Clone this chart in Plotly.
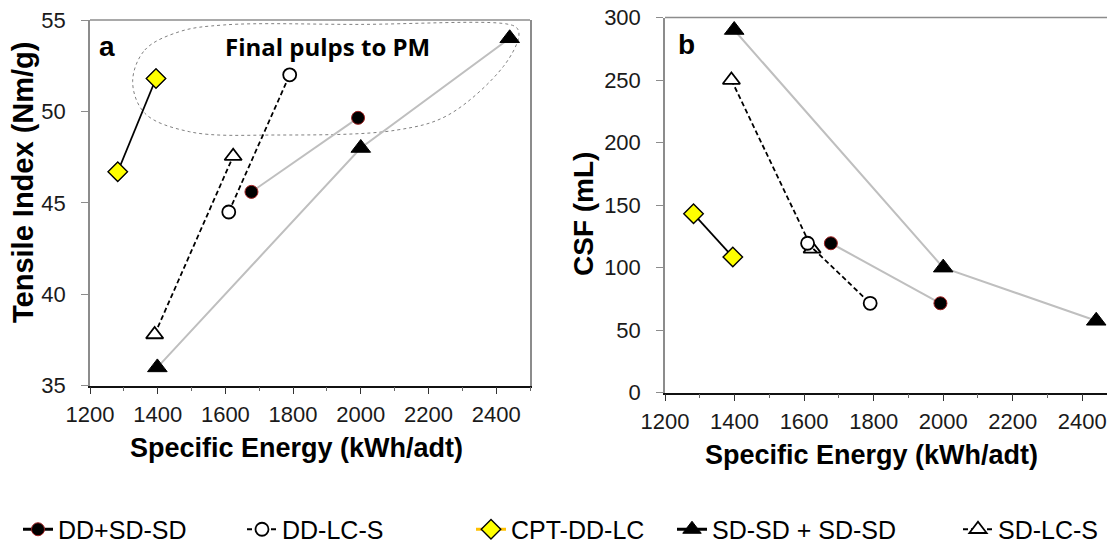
import plotly.graph_objects as go

# ---------------- data ----------------
series_names = ["DD+SD-SD", "DD-LC-S", "CPT-DD-LC", "SD-SD + SD-SD", "SD-LC-S"]

dd_sdsd_energy = [1677, 1992]
dd_sdsd_tensile = [45.6, 49.65]
dd_sdsd_csf = [119.5, 71.5]

dd_lcs_energy = [1610, 1790]
dd_lcs_tensile = [44.5, 52.0]
dd_lcs_csf = [119.5, 71.5]

cpt_energy = [1282, 1395]
cpt_tensile = [46.7, 51.8]
cpt_csf = [143, 108.5]

sdsd_energy = [1399, 2000, 2440]
sdsd_tensile = [36.0, 48.0, 54.0]
sdsd_csf = [290, 100, 57.5]

sd_lcs_energy = [1391, 1623]
sd_lcs_tensile = [37.8, 47.55]
sd_lcs_csf = [250, 115]

# outline of the "Final pulps to PM" region (panel a, data units)
region_x = [1326, 1362, 1464, 1596, 2000, 2432, 2462, 2467, 2421, 2258, 2106, 1749, 1494, 1362, 1326]
region_y = [51.63, 53.36, 54.36, 54.73, 54.76, 54.78, 54.55, 54.09, 52.45, 49.8, 48.98, 48.71, 48.89, 49.9, 51.63]

x_ticks = [1200, 1400, 1600, 1800, 2000, 2200, 2400]
tensile_ticks = [35, 40, 45, 50, 55]
csf_ticks = [0, 50, 100, 150, 200, 250, 300]

# ---------------- styles ----------------
GRAY_LINE = "#BFBFBF"
AX_GRAY = "#8C8C8C"
FONT = "Liberation Sans, Arial, sans-serif"
OFF = 8                      # page body margin offset
W, H = 1115 - OFF, 543 - OFF


def px_x(x):
    return (x - OFF) / W


def px_y(y):
    return 1 - (y - OFF) / H


styles = {
    "DD+SD-SD": dict(line=dict(color=GRAY_LINE, width=2),
                     marker=dict(symbol="circle", size=13, color="black",
                                 line=dict(color="#A02020", width=1))),
    "DD-LC-S": dict(line=dict(color="black", width=1.8, dash="5px,3px"),
                    marker=dict(symbol="circle", size=13, color="white",
                                line=dict(color="black", width=1.8))),
    "CPT-DD-LC": dict(line=dict(color="black", width=1.8),
                      marker=dict(symbol="diamond", size=15, color="#FFFF00",
                                  line=dict(color="black", width=1.4))),
    "SD-SD + SD-SD": dict(line=dict(color=GRAY_LINE, width=2),
                          marker=dict(symbol="triangle-up", size=17, color="black",
                                      line=dict(color="black", width=1))),
    "SD-LC-S": dict(line=dict(color="black", width=1.8, dash="5px,3px"),
                    marker=dict(symbol="triangle-up", size=15, color="white",
                                line=dict(color="black", width=1.8))),
}

fig = go.Figure()

panel_data = [
    ("DD+SD-SD", dd_sdsd_energy, dd_sdsd_tensile, dd_sdsd_csf),
    ("DD-LC-S", dd_lcs_energy, dd_lcs_tensile, dd_lcs_csf),
    ("CPT-DD-LC", cpt_energy, cpt_tensile, cpt_csf),
    ("SD-SD + SD-SD", sdsd_energy, sdsd_tensile, sdsd_csf),
    ("SD-LC-S", sd_lcs_energy, sd_lcs_tensile, sd_lcs_csf),
]

# region outline first (behind)
fig.add_trace(go.Scatter(x=region_x, y=region_y, mode="lines", xaxis="x", yaxis="y",
                         line=dict(color="#808080", width=1, dash="dot", shape="spline", smoothing=1.0),
                         showlegend=False, hoverinfo="skip"))

draw_order = ["SD-SD + SD-SD", "DD+SD-SD", "SD-LC-S", "DD-LC-S", "CPT-DD-LC"]
lookup = {n: (e, t, c) for n, e, t, c in panel_data}
for name in draw_order:
    e, t, c = lookup[name]
    st = styles[name]
    fig.add_trace(go.Scatter(x=e, y=t, mode="lines+markers", name=name, xaxis="x", yaxis="y",
                             line=st["line"], marker=st["marker"], showlegend=False))
    fig.add_trace(go.Scatter(x=e, y=c, mode="lines+markers", name=name, xaxis="x2", yaxis="y2",
                             line=st["line"], marker=st["marker"], showlegend=False))

# legend entries (one legend each, positioned individually)
legend_x_px = [18, 242, 471, 672, 958]
legend_line_override = {"CPT-DD-LC": dict(color="#FFC000", width=3),
                        "DD+SD-SD": dict(color="black", width=3),
                        "SD-SD + SD-SD": dict(color="black", width=3)}
layout_legends = {}
for i, name in enumerate(series_names):
    st = styles[name]
    line = legend_line_override.get(name, st["line"])
    lg = "legend" if i == 0 else f"legend{i+1}"
    fig.add_trace(go.Scatter(x=[None], y=[None], mode="lines+markers", name=name,
                             xaxis="x", yaxis="y",
                             line=line, marker=st["marker"], showlegend=True, legend=lg))
    layout_legends[lg] = dict(x=px_x(legend_x_px[i]), y=px_y(529.5), xanchor="left", yanchor="middle",
                              orientation="h", bgcolor="rgba(0,0,0,0)",
                              font=dict(family=FONT, size=25, color="black"),
                              itemwidth=30)


def xaxis(domain, anchor, rng):
    return dict(domain=domain, anchor=anchor, range=rng, tickvals=x_ticks,
                showgrid=False, zeroline=False, automargin=False, ticklabeloverflow="allow",
                ticks="outside", ticklen=7, tickcolor="#333333", ticklabelstandoff=1,
                tickfont=dict(family=FONT, size=22, color="#1a1a1a"),
                showline=True, linecolor="#111111", linewidth=1.5,
                minor=dict(dtick=100, ticklen=4, tickcolor="#666666", ticks="outside"))


def yaxis(domain, anchor, rng, tv, mirror):
    return dict(domain=domain, anchor=anchor, range=rng, tickvals=tv,
                showgrid=False, zeroline=False, automargin=False, ticklabeloverflow="allow",
                ticks="outside", ticklen=7, tickcolor=AX_GRAY, ticklabelstandoff=11,
                tickfont=dict(family=FONT, size=22, color="#1a1a1a"),
                showline=True, linecolor=AX_GRAY, linewidth=1.5, mirror=mirror)


# top borders in gray
for xr, yr in [("x domain", "y domain"), ("x2 domain", "y2 domain")]:
    fig.add_shape(type="line", xref=xr, yref=yr, x0=0, x1=1, y0=1, y1=1,
                  line=dict(color=AX_GRAY, width=1.5))


def ann(text, xpx, ypx, size, angle=0, family=FONT):
    fig.add_annotation(text=text, x=px_x(xpx), y=px_y(ypx), xref="paper", yref="paper",
                       xanchor="center", yanchor="middle", textangle=angle, showarrow=False,
                       font=dict(family=family, size=size, color="black"))


ann("<b>Specific Energy (kWh/adt)</b>", 296, 448, 27)
ann("<b>Specific Energy (kWh/adt)</b>", 871, 455, 27)
ann("<b>Tensile Index (Nm/g)</b>", 23, 183, 29, angle=-90)
ann("<b>CSF (mL)</b>", 584, 214, 28, angle=-90)
ann("<b>a</b>", 107, 47, 28)
ann("<b>b</b>", 686, 44, 28)
ann("<b>Final pulps to PM</b>", 327, 47, 24, family="Open Sans, sans-serif")

fig.update_layout(width=W, height=H, margin=dict(l=0, r=0, t=0, b=0, autoexpand=False),
                  paper_bgcolor="white", plot_bgcolor="white",
                  xaxis=xaxis([px_x(90), px_x(530)], "y", [1200, 2500]),
                  xaxis2=xaxis([px_x(665), 1.0], "y2", [1200, 2494]),
                  yaxis=yaxis([px_y(385.7), px_y(20)], "x", [35, 55], tensile_ticks, True),
                  yaxis2=yaxis([px_y(392.7), px_y(17.5)], "x2", [0, 300], csf_ticks, False),
                  **layout_legends)

fig.write_html("out.html")
